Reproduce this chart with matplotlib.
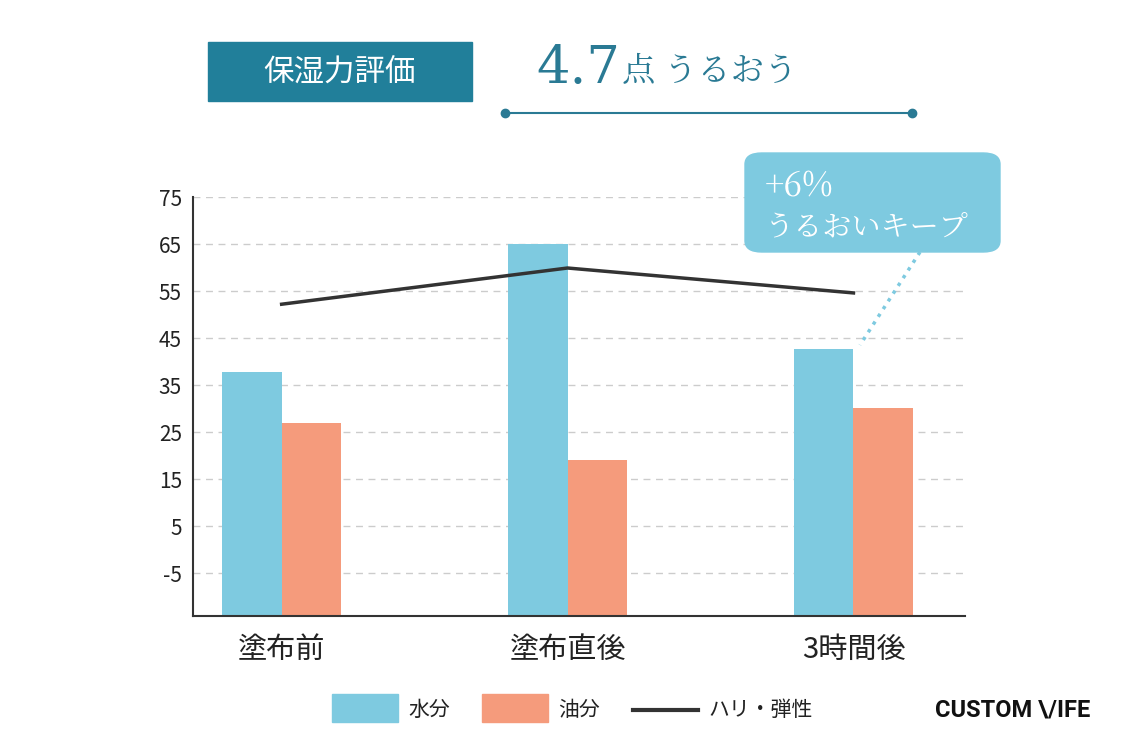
import matplotlib
matplotlib.use("Agg")
import matplotlib.pyplot as plt
from matplotlib.patches import FancyBboxPatch, Rectangle
from matplotlib.lines import Line2D
import numpy as np

plt.rcParams["font.family"] = "Noto Sans CJK JP"

categories = ["塗布前", "塗布直後", "3時間後"]
water = [37.8, 65.0, 42.7]
oil = [26.9, 19.0, 30.1]
firmness = [52.2, 59.9, 54.6]
yticks = [-5, 5, 15, 25, 35, 45, 55, 65, 75]

blue = "#7ecae0"
orange = "#f59b7c"
dark = "#333333"
teal = "#217f9a"

fig = plt.figure(figsize=(11.25, 7.5), dpi=100)
ax = fig.add_axes([193/1125, 1-616/750, 772/1125, 419/750])
x = np.arange(len(categories))
w = 0.207
ax.bar(x - w/2, water, w, color=blue, bottom=-14.1, zorder=2)
ax.bar(x + w/2, oil, w, color=orange, bottom=-14.1, zorder=2)
ax.plot(x, firmness, color=dark, lw=2.5, zorder=3)
# bars drawn from axis bottom; heights adjusted
for p in ax.patches:
    p.set_height(p.get_height() + 14.1)
ax.set_ylim(-14.1, 75)
ax.set_xlim(-0.31, 2.39)
ax.set_yticks(yticks)
ax.set_yticklabels([str(t) for t in yticks], fontsize=15, color="#222222")
ax.set_xticks(x)
ax.set_xticklabels(categories, fontsize=21, color="#222222")
ax.tick_params(length=0, pad=8)
ax.tick_params(axis="x", pad=14)
for t in yticks:
    ax.axhline(t, color="#cccccc", lw=1, ls=(0, (5, 4)), zorder=1)
for s in ["top", "right"]:
    ax.spines[s].set_visible(False)
ax.spines["left"].set_color(dark)
ax.spines["bottom"].set_color(dark)
ax.spines["left"].set_linewidth(1.5)
ax.spines["bottom"].set_linewidth(1.5)

# header
def px(xp, yp):
    return xp/1125, 1-yp/750
fig.patches.append(Rectangle(px(208, 101), 264/1125, 59/750, transform=fig.transFigure, color=teal))
fig.text(*px(340, 72), "保湿力評価", color="white", fontsize=22, ha="center", va="center")
fig.text(*px(620, 68), "4.7", color="#2a7a94", fontsize=38, ha="right", va="center", family="DejaVu Serif")
fig.text(*px(622, 72), "点 うるおう", color="#2a7a94", fontsize=24, ha="left", va="center", family="Noto Serif CJK JP")
fig.lines.append(Line2D([505/1125, 912/1125], [1-113/750]*2, transform=fig.transFigure, color="#2a7a94", lw=1.5,
                        marker="o", markersize=6, markevery=[0, 1]))

# callout
fig.patches.append(FancyBboxPatch(px(745, 252), 255/1125, 99/750, boxstyle="round,pad=0,rounding_size=0.015",
                                  transform=fig.transFigure, color=blue))
fig.text(*px(765, 187), "+6%", color="white", fontsize=24, ha="left", va="center", family="Noto Serif CJK JP")
fig.text(*px(765, 227), "うるおいキープ", color="white", fontsize=21, ha="left", va="center", family="Noto Serif CJK JP")
fig.lines.append(Line2D([920/1125, 860/1125], [1-252/750, 1-345/750], transform=fig.transFigure, color=blue, lw=2.5, ls=":"))

# legend
fig.patches.append(Rectangle(px(332, 722), 66/1125, 28/750, transform=fig.transFigure, color=blue))
fig.text(*px(408, 710), "水分", fontsize=15, va="center", color="#222222")
fig.patches.append(Rectangle(px(482, 722), 66/1125, 28/750, transform=fig.transFigure, color=orange))
fig.text(*px(558, 710), "油分", fontsize=15, va="center", color="#222222")
fig.lines.append(Line2D([633/1125, 698/1125], [1-710/750]*2, transform=fig.transFigure, color=dark, lw=3))
fig.text(*px(708, 710), "ハリ・弾性", fontsize=15, va="center", color="#222222")
fig.text(*px(1090, 710), "CUSTOM \\/IFE", fontsize=17, weight="bold", ha="right", va="center",
         family="Roboto", color="#111111")

fig.savefig("out.png", dpi=100)
